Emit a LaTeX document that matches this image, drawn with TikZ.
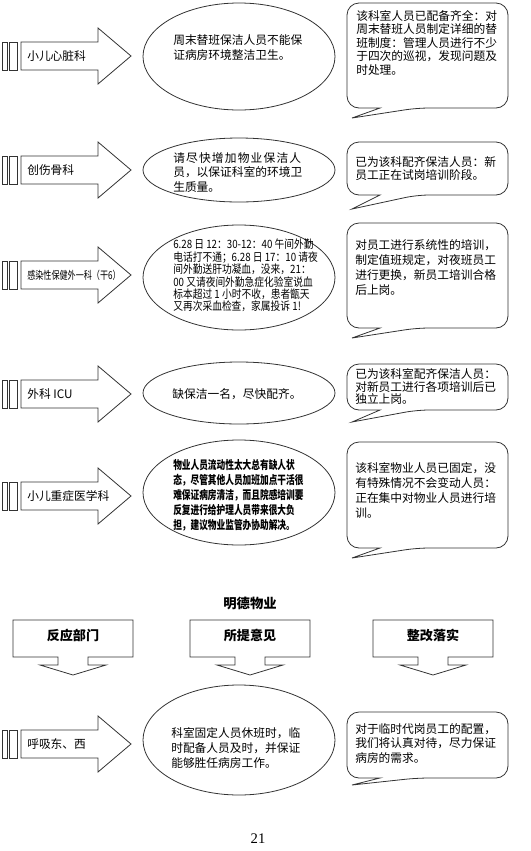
\documentclass[tikz,border=0pt]{standalone}
\usepackage{fontspec}
\setmainfont{Liberation Serif}
\newfontfamily\cjk{Noto Sans CJK SC}
\newfontfamily\cjknarrow[FakeStretch=0.85]{Noto Sans CJK SC}
\newfontfamily\cjkcond[FakeStretch=0.74]{Noto Sans CJK SC}
\newfontfamily\cjkspaced[LetterSpace=10]{Noto Sans CJK SC}
\usetikzlibrary{shapes.geometric}
\definecolor{edge}{HTML}{333333}
\newcommand{\fs}[1]{\fontsize{8.8}{#1}\selectfont}

\tikzset{
  shp/.style={draw=edge, line width=0.6pt},
  dept/.style={font=\cjk\fs{11}, inner sep=0pt, anchor=west},
  ask/.style={font=\cjk\fs{#1}, align=left, inner sep=0pt, anchor=north west},
  colhd/.style={font=\cjk\bfseries\fontsize{9.8}{12}\selectfont, inner sep=0pt}
}

% striped arrow of a department: centre y, name, label
\newcommand{\deptarrow}[3]{%
  \draw[shp] (2,#1-14) rectangle (7,#1+14);
  \draw[shp] (9,#1-14) rectangle (17,#1+14);
  \draw[shp] (21,#1-14) -- (98,#1-14) -- (98,#1-28) -- (131,#1)
    -- (98,#1+28) -- (98,#1+14) -- (21,#1+14) -- cycle;
  \node[dept] (#2) at (27,#1) {#3};
}
% answer bubble: top y, bottom y, tip y
\newcommand{\reply}[3]{%
  \draw[shp] (380,#2) [rounded corners=9] -- (347,#2) -- (347,#1)
    -- (508,#1) -- (508,#2) -- (417,#2) [sharp corners] -- (352,#3) -- cycle;
}

\begin{document}
\begin{tikzpicture}[x=0.75pt, y=-0.75pt]
  \useasboundingbox (0,0) rectangle (531,851);

  % 小儿心脏科
  \deptarrow{56}{d1}{小儿心脏科}
  \draw[shp] (239,56.5) ellipse [x radius=96, y radius=53.5];
  \node[ask=10.9] (q1) at (173,34.5) {周末替班保洁人员不能保\\证病房环境整洁卫生。};
  \reply{3}{108}{118}
  \node[ask=10.1] (a1) at (356,10) {该科室人员已配备齐全：对\\周末替班人员制定详细的替\\班制度：管理人员进行不少\\于四次的巡视，发现问题及\\时处理。};

  % 创伤骨科
  \deptarrow{170}{d2}{创伤骨科}
  \draw[shp] (239,170) ellipse [x radius=96, y radius=32];
  \node[ask=10.9] (q2) at (173,152) {{\cjkspaced 请尽快增加物业保洁人}\\员，以保证科室的环境卫\\生质量。};
  \reply{142}{195}{209}
  \node[ask=9.75] (a2) at (355,156) {已为该科配齐保洁人员：新\\员工正在试岗培训阶段。};

  % 感染性保健外一科
  \deptarrow{275}{d3}{\cjkcond\fontsize{8.2}{9}\selectfont 感染性保健外一科（干6）}
  \draw[shp] (239,277.5) ellipse [x radius=96, y radius=52.5];
  \node[ask=9.3, font=\cjknarrow\fontsize{8.6}{9.3}\selectfont] (q3) at (173,239)
    {6.28 日 12：30-12：40 午间外勤\\电话打不通；6.28 日 17：10 请夜\\间外勤送肝功凝血，没来，21：\\00 又请夜间外勤急症化验室说血\\标本超过 1 小时不收，患者甑天\\又再次采血检查，家属投诉 1!};
  \reply{223}{328}{338}
  \node[ask=11.25] (a3) at (355,239) {对员工进行系统性的培训，\\制定值班规定，对夜班员工\\进行更换，新员工培训合格\\后上岗。};

  % 外科 ICU
  \deptarrow{394}{d4}{外科 ICU}
  \draw[shp] (239,393) ellipse [x radius=96, y radius=31];
  \node[font=\cjk\fs{11}, inner sep=0pt] (q4) at (237,394) {缺保洁一名，尽快配齐。};
  \reply{364}{410}{422}
  \node[ask=9.6] (a4) at (355,368) {已为该科室配齐保洁人员：\\对新员工进行各项培训后已\\独立上岗。};

  % 小儿重症医学科
  \deptarrow{496}{d5}{小儿重症医学科}
  \draw[shp] (239,492.5) ellipse [x radius=96, y radius=52.5];
  \node[ask=11.25, font=\cjkcond\bfseries\fs{11.25}] (q5) at (173,459)
    {物业人员流动性太大总有缺人状\\态，尽管其他人员加班加点干活很\\难保证病房清洁，而且院感培训要\\反复进行给护理人员带来很大负\\担，建议物业监管办协助解决。};
  \reply{442}{548}{558}
  \node[ask=11.25] (a5) at (355,462) {该科室物业人员已固定，没\\有特殊情况不会变动人员：\\正在集中对物业人员进行培\\训。};

  % column heads
  \node[font=\cjk\bfseries\fontsize{10}{12}\selectfont] (title) at (250,603) {明德物业};
  \foreach \cx/\nm/\lbl in {73/hdept/反应部门, 250/hask/所提意见, 433/hfix/整改落实} {
    \draw[shp] (\cx-60,620) -- (\cx+60,620) -- (\cx+60,657) -- (\cx+15,657)
      -- (\cx+15,665) -- (\cx+33,665) -- (\cx,675) -- (\cx-33,665)
      -- (\cx-15,665) -- (\cx-15,657) -- (\cx-60,657) -- cycle;
    \node[colhd] (\nm) at (\cx,635) {\lbl};
  }

  % 呼吸东、西
  \deptarrow{744}{d6}{呼吸东、西}
  \draw[shp] (239,740) ellipse [x radius=96, y radius=55];
  \node[ask=11.25] (q6) at (171,727) {科室固定人员休班时，临\\时配备人员及时，并保证\\能够胜任病房工作。};
  \reply{712}{778}{785}
  \node[ask=10.9] (a6) at (355,723) {对于临时代岗员工的配置，\\我们将认真对待，尽力保证\\病房的需求。};

  \node[font=\fontsize{11}{13}\selectfont] (page) at (258,839) {21};
\end{tikzpicture}
\end{document}
